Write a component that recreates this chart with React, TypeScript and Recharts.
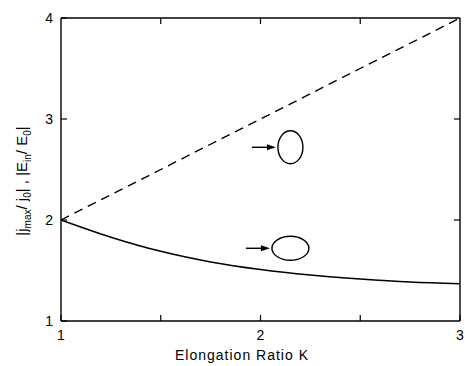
import { LineChart, Line, XAxis, YAxis, ReferenceDot } from 'recharts';

// values
const elongation = [1, 1.25, 1.5, 1.75, 2, 2.25, 2.5, 2.75, 3];
const fieldRatio = [2, 2.25, 2.5, 2.75, 3, 3.25, 3.5, 3.75, 4]; // dashed
const currentRatio = [2, 1.83, 1.69, 1.585, 1.51, 1.455, 1.415, 1.385, 1.37]; // solid

const xDomain = [1, 3];
const yDomain = [1, 4];
const xTicks = [1, 1.5, 2, 2.5, 3];
const xLabels = [1, 2, 3];
const yTicks = [1, 2, 3, 4];

// ellipse insets (tall one points to dashed curve, wide one to solid)
const insetX = [2.15, 2.15];
const insetY = [2.72, 1.72];
const insetRx = [12.5, 18.5];
const insetRy = [16.5, 12];

const data = elongation.map((x, i) => ({ x, dashed: fieldRatio[i], solid: currentRatio[i] }));

const font = '"Liberation Sans", Arial, sans-serif';
const TICK = 6;
const W = 465;
const H = 366;
const TOP = 18;
const LEFT = 61;
const RIGHT = 5;
const BOTTOM = 45;
const PLOT_W = W - LEFT - RIGHT;
const PLOT_H = H - TOP - BOTTOM;

function BottomTick({ x, y, payload }: any) {
  const v = payload.value;
  return (
    <g>
      <line x1={x} y1={y} x2={x} y2={y - TICK} stroke="#000" strokeWidth={1.2} />
      {xLabels.includes(v) && (
        <text x={x} y={y + 19} textAnchor="middle" fontSize={14} fontFamily={font} fill="#000">
          {v}
        </text>
      )}
    </g>
  );
}

function LeftTick({ x, y, payload }: any) {
  return (
    <g>
      <line x1={x} y1={y} x2={x + TICK} y2={y} stroke="#000" strokeWidth={1.2} />
      <text x={x - 8} y={y + 5} textAnchor="end" fontSize={14} fontFamily={font} fill="#000">
        {payload.value}
      </text>
    </g>
  );
}

function Inset({ cx, cy, index }: any) {
  const rx = insetRx[index];
  const ry = insetRy[index];
  const tipX = cx - rx - 2;
  const tailX = tipX - 24;
  return (
    <g>
      <ellipse cx={cx} cy={cy} rx={rx} ry={ry} fill="none" stroke="#000" strokeWidth={1.4} />
      <line x1={tailX} y1={cy} x2={tipX - 6} y2={cy} stroke="#000" strokeWidth={1.4} />
      <path d={`M${tipX},${cy} L${tipX - 9},${cy - 3} L${tipX - 9},${cy + 3} Z`} fill="#000" />
    </g>
  );
}

// frame top edge plus mirrored ticks on top and right
function Frame() {
  const px = (v: number) => LEFT + ((v - xDomain[0]) / (xDomain[1] - xDomain[0])) * PLOT_W;
  const py = (v: number) => TOP + ((yDomain[1] - v) / (yDomain[1] - yDomain[0])) * PLOT_H;
  const right = LEFT + PLOT_W;
  return (
    <g stroke="#000">
      <line x1={LEFT} y1={TOP} x2={right} y2={TOP} strokeWidth={1.4} />
      <line x1={right} y1={TOP} x2={right} y2={TOP + PLOT_H} strokeWidth={1.4} />
      {xTicks.slice(1, -1).map((t) => (
        <line key={t} x1={px(t)} y1={TOP} x2={px(t)} y2={TOP + TICK} strokeWidth={1.2} />
      ))}
      {yTicks.slice(1, -1).map((t) => (
        <line key={t} x1={right} y1={py(t)} x2={right - TICK} y2={py(t)} strokeWidth={1.2} />
      ))}
    </g>
  );
}

function Titles() {
  return (
    <g fontFamily={font} fill="#000">
      <text x={242} y={360} textAnchor="middle" fontSize={14} letterSpacing={1}>
        Elongation Ratio K
      </text>
      <text transform="translate(27,181) rotate(-90)" textAnchor="middle" fontSize={15}>
        |j<tspan fontSize={10} dy={4}>max</tspan>
        <tspan dy={-4}>/ j</tspan>
        <tspan fontSize={10} dy={4}>0</tspan>
        <tspan dy={-4}>| , |E</tspan>
        <tspan fontSize={10} dy={4}>in</tspan>
        <tspan dy={-4}>/ E</tspan>
        <tspan fontSize={10} dy={4}>0</tspan>
        <tspan dy={-4}>|</tspan>
      </text>
    </g>
  );
}

export default function App() {
  return (
    <div style={{ position: 'absolute', left: 0, top: 0, width: W, height: H, background: '#fff' }}>
      <LineChart width={W} height={H} data={data} margin={{ top: TOP, right: RIGHT, bottom: 0, left: 0 }}>
        <XAxis
          dataKey="x"
          type="number"
          domain={xDomain}
          ticks={xTicks}
          height={BOTTOM}
          tickSize={0}
          tickMargin={0}
          tickLine={false}
          tick={<BottomTick />}
          axisLine={{ stroke: '#000', strokeWidth: 1.4 }}
        />
        <YAxis
          type="number"
          domain={yDomain}
          ticks={yTicks}
          width={LEFT}
          tickSize={0}
          tickMargin={0}
          tickLine={false}
          tick={<LeftTick />}
          axisLine={{ stroke: '#000', strokeWidth: 1.4 }}
        />
        <Line
          dataKey="dashed"
          type="linear"
          stroke="#000"
          strokeWidth={1.4}
          strokeDasharray="9 6"
          dot={false}
          isAnimationActive={false}
        />
        <Line
          dataKey="solid"
          type="monotone"
          stroke="#000"
          strokeWidth={1.5}
          dot={false}
          isAnimationActive={false}
        />
        {insetX.map((x, i) => (
          <ReferenceDot key={i} x={x} y={insetY[i]} shape={(p: any) => <Inset {...p} index={i} />} />
        ))}
      </LineChart>
      <svg width={W} height={H} style={{ position: 'absolute', left: 0, top: 0, pointerEvents: 'none' }}>
        <Frame />
        <Titles />
      </svg>
    </div>
  );
}
